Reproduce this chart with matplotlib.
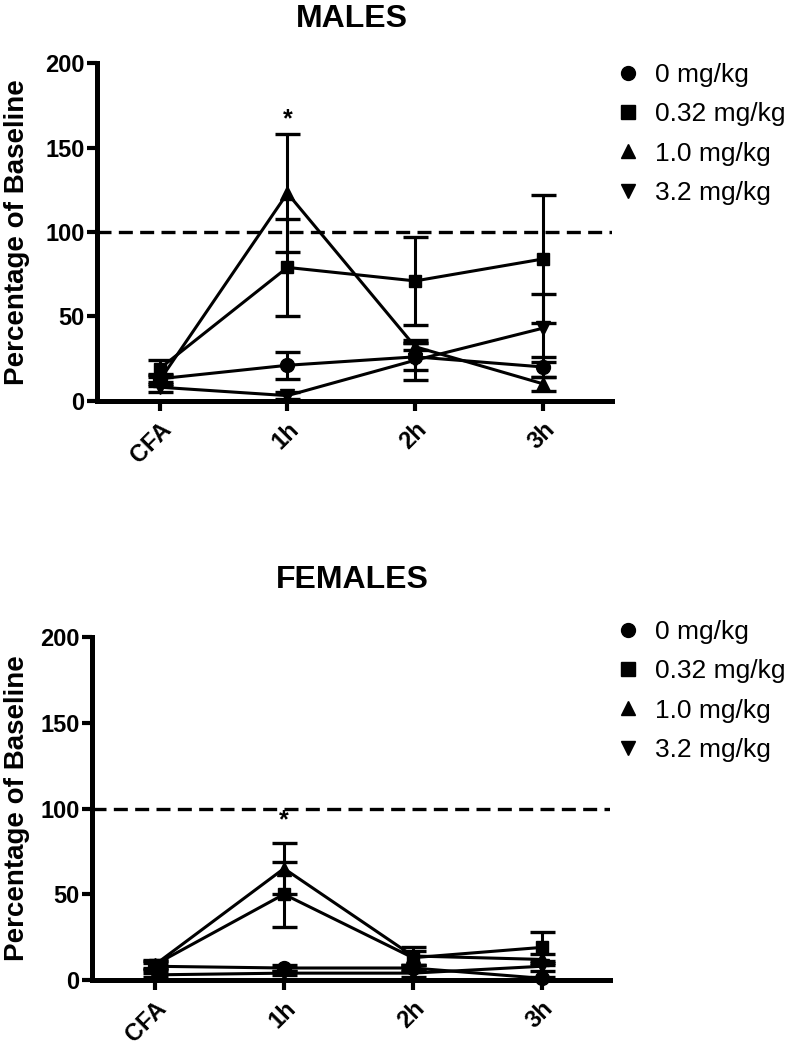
import matplotlib
matplotlib.use('Agg')
import matplotlib.pyplot as plt
from matplotlib.lines import Line2D

plt.rcParams['font.family'] = ['Liberation Sans', 'DejaVu Sans']

# time points and dose groups
times = ['CFA', '1h', '2h', '3h']
doses = ['0 mg/kg', '0.32 mg/kg', '1.0 mg/kg', '3.2 mg/kg']
markers = ['o', 's', '^', 'v']
msizes = [10, 9, 10, 10]

# males: mean and SEM per dose
males_0 = [13, 21, 26, 20]
males_0_err = [3, 8, 8, 6]
males_032 = [19, 79, 71, 84]
males_032_err = [5, 29, 26, 38]
males_1 = [12, 123, 32, 10]
males_1_err = [3, 35, 2, 4]
males_32 = [8, 3, 24, 43]
males_32_err = [3, 2, 12, 20]

# females: mean and SEM per dose
females_0 = [8, 7, 7, 1]
females_0_err = [2, 2, 2, 1]
females_032 = [9, 50, 13, 19]
females_032_err = [2.5, 19, 4, 9]
females_1 = [9, 65, 14, 12]
females_1_err = [2, 15, 5, 3]
females_32 = [3, 4, 4, 8]
females_32_err = [1, 1, 2, 3]

W, H = 804, 1050
fig = plt.figure(figsize=(W / 100, H / 100), dpi=100)


def panel(rect, xlim, title, title_y, means, errs, star_y, leg_top, ylab_x):
    ax = fig.add_axes(rect)
    x = list(range(len(times)))
    for m, e, mk, ms in zip(means, errs, markers, msizes):
        ax.errorbar(x, m, yerr=e, color='black', marker=mk, markersize=ms,
                    linewidth=2.2, elinewidth=2.2, capsize=9, capthick=2.4,
                    clip_on=False, zorder=3)
    ax.axhline(100, color='black', linestyle=(0, (4.2, 2.2)), linewidth=2.4, zorder=2)
    ax.text(1, star_y, '*', ha='center', va='center', fontsize=18, fontweight='bold')

    ax.set_xlim(*xlim)
    ax.set_ylim(0, 200)
    ax.set_yticks([0, 50, 100, 150, 200])
    ax.set_xticks(x)
    ax.set_xticklabels(times, rotation=45, ha='right', rotation_mode='anchor',
                       fontsize=17, fontweight='bold')
    for lab in ax.get_yticklabels():
        lab.set_fontsize(17)
        lab.set_fontweight('bold')
    ax.tick_params(axis='both', direction='out', width=3, length=7, pad=2)
    ax.tick_params(axis='x', pad=5)
    for s in ['top', 'right']:
        ax.spines[s].set_visible(False)
    for s in ['left', 'bottom']:
        ax.spines[s].set_linewidth(3.6)
    ax.set_ylabel('Percentage of Baseline', fontsize=20, fontweight='bold')
    ax.yaxis.set_label_coords(ylab_x, 0.5)

    fig.text(352 / W, 1 - title_y / H, title, ha='center', va='center',
             fontsize=23, fontweight='bold')

    handles = [Line2D([], [], color='black', marker=mk, linestyle='none', markersize=10)
               for mk in markers]
    fig.legend(handles, doses, loc='upper left', bbox_to_anchor=(615 / W, 1 - leg_top / H),
               bbox_transform=fig.transFigure, frameon=False, fontsize=19,
               handlelength=1.0, handletextpad=0.5, labelspacing=0.58,
               borderpad=0, borderaxespad=0)
    return ax


panel([97 / W, 1 - 400.7 / H, 515 / W, 337.4 / H], (-0.49, 3.54), 'MALES', 19,
      [males_0, males_032, males_1, males_32],
      [males_0_err, males_032_err, males_1_err, males_32_err], 167, 63, -0.13)

panel([92 / W, 1 - 980 / H, 518 / W, 343 / H], (-0.49, 3.53), 'FEMALES', 580,
      [females_0, females_032, females_1, females_32],
      [females_0_err, females_032_err, females_1_err, females_32_err], 93, 620, -0.12)

fig.savefig('out.png', dpi=100)
